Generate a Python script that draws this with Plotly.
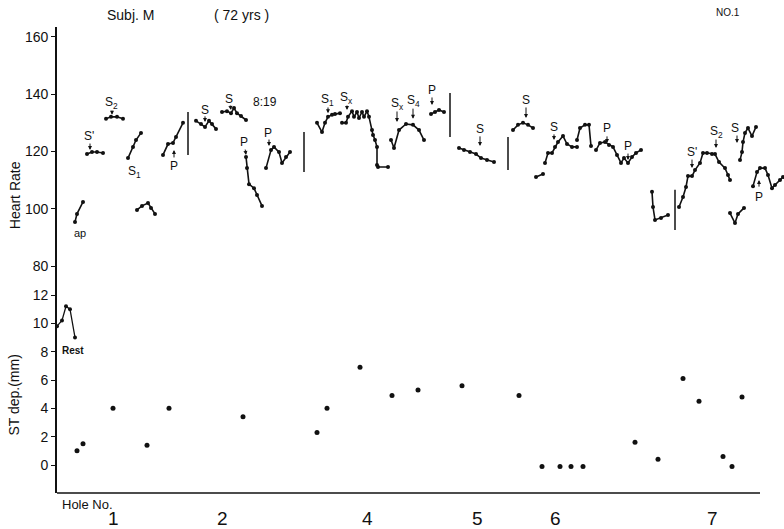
import plotly.graph_objects as go

# ---------------------------------------------------------------------------
# Heart-rate record during a round (x = elapsed time, arbitrary units)
# Each segment is one stretch of recording between shots / walks.
# ---------------------------------------------------------------------------
seg_ap_t = [18, 20, 26]
seg_ap_hr = [95.4, 98.2, 102.4]

seg_1a_t = [30, 35, 40, 46]
seg_1a_hr = [119.1, 119.8, 119.8, 119.5]

seg_1b_t = [49, 54, 60, 66]
seg_1b_hr = [131.4, 132.1, 132.1, 131.4]

seg_1c_t = [71, 76, 79, 84]
seg_1c_hr = [117.7, 121.6, 124.0, 126.5]

seg_1d_t = [80, 85, 91, 94, 98]
seg_1d_hr = [99.6, 101.0, 102.0, 100.3, 98.2]

seg_1e_t = [106, 111, 116, 119, 126]
seg_1e_hr = [118.8, 122.6, 123.0, 125.1, 130.0]

seg_2a_t = [139, 144, 148, 152, 155, 159]
seg_2a_hr = [130.7, 129.6, 128.6, 130.7, 129.6, 127.9]

seg_2b_t = [165, 170, 174, 177, 180, 184, 189]
seg_2b_hr = [133.8, 134.1, 133.4, 135.2, 133.4, 132.4, 131.0]

seg_2c_t = [189, 190, 192, 197, 200, 205]
seg_2c_hr = [118.1, 114.2, 108.6, 107.2, 104.8, 101.0]

seg_2d_t = [209, 214, 217, 222, 225, 229, 233]
seg_2d_hr = [114.2, 120.5, 121.6, 119.8, 116.0, 118.1, 119.8]

seg_4a_t = [260, 265, 268, 271, 275, 278, 283]
seg_4a_hr = [130.0, 126.8, 130.0, 132.1, 132.8, 133.1, 133.4]

seg_4b_t = [285, 289, 291, 295, 297, 300, 302, 305, 307, 310, 312, 315,
            316, 318, 320, 320, 321, 331]
seg_4b_hr = [130.0, 130.0, 132.1, 134.1, 132.1, 133.8, 131.7, 133.8, 132.1,
             134.1, 132.1, 127.5, 125.8, 124.0, 121.6, 115.3, 114.6, 114.6]

seg_4c_t = [334, 337, 342, 349, 356, 362, 367]
seg_4c_hr = [124.0, 121.2, 127.5, 129.6, 129.3, 127.5, 124.0]

seg_4d_t = [374, 378, 382, 387]
seg_4d_hr = [133.1, 133.8, 134.5, 133.8]

seg_5a_t = [402, 407, 413, 419, 424, 430, 437]
seg_5a_hr = [121.2, 120.5, 119.8, 119.1, 117.7, 117.0, 116.3]

seg_5b_t = [456, 461, 466, 471, 476]
seg_5b_hr = [127.5, 129.3, 130.0, 129.3, 128.2]

seg_6a_t = [479, 486]
seg_6a_hr = [111.1, 112.1]

seg_6b_t = [488, 491, 495, 498, 501, 506, 510, 515, 520]
seg_6b_hr = [116.0, 119.5, 119.5, 121.6, 123.3, 125.4, 122.6, 121.6, 121.6]

seg_6c_t = [520, 523, 528, 532, 534]
seg_6c_hr = [124.0, 128.2, 129.3, 129.3, 121.9]

seg_6d_t = [539, 543, 548, 552, 556, 560, 564, 567, 571, 575, 579, 584]
seg_6d_hr = [120.5, 123.0, 123.3, 122.3, 121.6, 118.8, 116.0, 117.7, 116.0,
             118.1, 119.5, 120.5]

seg_6e_t = [595, 596, 598, 604, 611]
seg_6e_hr = [105.9, 100.6, 96.1, 96.8, 97.8]

seg_7a_t = [622, 626, 629, 631, 635, 638, 643, 646, 650, 655, 658, 662, 668,
            671, 673]
seg_7a_hr = [100.6, 104.1, 107.6, 111.4, 111.4, 113.5, 116.0, 119.5, 119.5,
             119.1, 119.1, 116.3, 114.2, 111.8, 110.0]

seg_7b_t = [683, 685, 686, 688, 691, 695, 699]
seg_7b_hr = [117.0, 119.8, 123.3, 126.5, 128.2, 125.4, 128.6]

seg_7c_t = [673, 678, 681, 687]
seg_7c_hr = [98.5, 95.0, 98.2, 100.3]

seg_7d_t = [696, 700, 703, 708, 711, 715, 718, 723, 726]
seg_7d_hr = [107.9, 112.8, 114.2, 114.2, 111.8, 107.2, 108.3, 110.0, 111.1]

# Resting ST depression (mm) before the round
rest_t = [0, 5, 9, 13, 18]
rest_st = [9.8, 10.2, 11.2, 11.0, 9.0]

# ST depression (mm) measured along the round
st_t = [20, 26, 56, 90, 112, 186, 260, 270, 303, 335, 361, 405, 462,
        485, 503, 514, 526, 578, 601, 626, 642, 666, 675, 685]
st_mm = [1.0, 1.5, 4.0, 1.4, 4.0, 3.4, 2.3, 4.0, 6.9, 4.9, 5.3, 5.6, 4.9,
         -0.1, -0.1, -0.1, -0.1, 1.6, 0.4, 6.1, 4.5, 0.6, -0.1, 4.8]

# Hole numbers on the time axis
hole_t = [56, 165, 310, 420, 498, 655]
hole_labels = ["1", "2", "4", "5", "6", "7"]

# Hole separators: time, HR span
sep_t = [131, 247, 393, 451, 618]
sep_hr_top = [133.8, 126.8, 140.4, 125.1, 106.6]
sep_hr_bottom = [118.8, 112.8, 125.1, 113.5, 92.6]

# Event labels (S = stroke, P = putt): text, text position, arrow tail, arrow tip
event_text = ["S'", "S<sub>2</sub>", "P", "S", "S", "P", "P",
              "S<sub>1</sub>", "S<sub>x</sub>", "S<sub>x</sub>", "S<sub>4</sub>",
              "P", "S", "S", "S", "P", "P", "S'", "S<sub>2</sub>", "S", "P"]
event_t = [32, 54, 117, 148, 172, 187, 211, 270, 289, 340, 356, 375, 423,
           469, 497, 550, 571, 635, 659, 678, 702]
event_hr = [125.4, 136.9, 114.9, 134.5, 138.3, 123.3, 126.5, 138.0, 138.7,
            136.6, 137.6, 141.5, 127.9, 138.0, 128.6, 128.2, 122.0, 119.8,
            126.8, 128.2, 104.1]
arrow_tail_t = [33, 55, 117, 148, 173, 188, 212, 271, 290, 340, 356, 375,
                423, 469, 497, 550, 571, 635, 659, 680, 702]
arrow_tail_hr = [123.3, 134.8, 117.4, 132.8, 136.6, 121.2, 124.7, 135.9,
                 136.6, 134.5, 135.5, 139.4, 125.8, 135.9, 126.5, 125.8,
                 119.8, 117.7, 124.7, 126.1, 107.2]
arrow_tip_t = [33, 55, 117, 148, 174, 189, 212, 271, 290, 340, 356, 375,
               423, 469, 497, 550, 571, 635, 659, 680, 702]
arrow_tip_hr = [120.5, 132.8, 120.5, 130.3, 134.5, 118.8, 121.9, 133.4,
                134.5, 130.3, 131.4, 136.2, 121.9, 131.7, 124.0, 123.0,
                117.0, 114.2, 121.2, 123.0, 110.0]

segments = [
    (seg_ap_t, seg_ap_hr), (seg_1a_t, seg_1a_hr), (seg_1b_t, seg_1b_hr),
    (seg_1c_t, seg_1c_hr), (seg_1d_t, seg_1d_hr), (seg_1e_t, seg_1e_hr),
    (seg_2a_t, seg_2a_hr), (seg_2b_t, seg_2b_hr), (seg_2c_t, seg_2c_hr),
    (seg_2d_t, seg_2d_hr), (seg_4a_t, seg_4a_hr), (seg_4b_t, seg_4b_hr),
    (seg_4c_t, seg_4c_hr), (seg_4d_t, seg_4d_hr), (seg_5a_t, seg_5a_hr),
    (seg_5b_t, seg_5b_hr), (seg_6a_t, seg_6a_hr), (seg_6b_t, seg_6b_hr),
    (seg_6c_t, seg_6c_hr), (seg_6d_t, seg_6d_hr), (seg_6e_t, seg_6e_hr),
    (seg_7a_t, seg_7a_hr), (seg_7b_t, seg_7b_hr), (seg_7c_t, seg_7c_hr),
    (seg_7d_t, seg_7d_hr),
]

# Join the segments into a single broken line
hr_x, hr_y = [], []
for ts, hs in segments:
    hr_x += ts + [None]
    hr_y += hs + [None]

FONT = "Liberation Sans"
INK = "#111111"


def label(x, y, text, size, xref="x", yref="y", **kw):
    return dict(x=x, y=y, xref=xref, yref=yref, text=text, showarrow=False,
                xanchor="center", yanchor="middle",
                font=dict(family=FONT, size=size, color=INK), **kw)


fig = go.Figure()

fig.add_trace(go.Scatter(
    x=hr_x, y=hr_y, mode="lines+markers", yaxis="y",
    line=dict(color=INK, width=1.6),
    marker=dict(color=INK, size=4),
    connectgaps=False, showlegend=False, cliponaxis=False,
))

fig.add_trace(go.Scatter(
    x=rest_t, y=rest_st, mode="lines+markers", yaxis="y2",
    line=dict(color=INK, width=1.3),
    marker=dict(color=INK, size=4),
    showlegend=False, cliponaxis=False,
))

fig.add_trace(go.Scatter(
    x=st_t, y=st_mm, mode="markers", yaxis="y2",
    marker=dict(color=INK, size=5),
    showlegend=False, cliponaxis=False,
))

shapes = []
for t, top, bot in zip(sep_t, sep_hr_top, sep_hr_bottom):
    shapes.append(dict(type="line", xref="x", yref="y", x0=t, x1=t,
                       y0=bot, y1=top, line=dict(color=INK, width=1.5)))
# Baseline of the time axis
shapes.append(dict(type="line", xref="x", yref="paper", x0=-2, x1=703,
                   y0=0, y1=0, line=dict(color=INK, width=1.6)))

annotations = []
for txt, t, h in zip(event_text, event_t, event_hr):
    annotations.append(label(t, h, txt, 12))
for t0, h0, t1, h1 in zip(arrow_tail_t, arrow_tail_hr, arrow_tip_t, arrow_tip_hr):
    annotations.append(dict(x=t1, y=h1, ax=t0, ay=h0, xref="x", yref="y",
                            axref="x", ayref="y", text="", showarrow=True,
                            arrowhead=2, arrowsize=0.8, arrowwidth=1,
                            arrowcolor=INK, standoff=0, startstandoff=0))

annotations += [
    label(23, 91.5, "ap", 11),
    label(208, 137.3, "8:19", 12),
    label(77, 112.8, "S<sub>1</sub>", 12),
    label(16, 8.1, "<b>Rest</b>", 10, yref="y2"),
]

for t, lab in zip(hole_t, hole_labels):
    annotations.append(label(t, -0.054, lab, 19, yref="paper"))

annotations += [
    label(30, -0.024, "Hole No.", 13, yref="paper"),
    label(-0.0585, 0.64, "Heart Rate", 14, xref="paper", yref="paper", textangle=-90),
    label(-0.0585, 0.21, "ST dep.(mm)", 14, xref="paper", yref="paper", textangle=-90),
    label(73, 1.026, "Subj. M", 14, yref="paper"),
    label(184, 1.026, "( 72 yrs )", 14, yref="paper"),
    label(671, 1.032, "NO.1", 10, yref="paper"),
]

split = (493 - 280) / 466

axis_common = dict(
    showgrid=False, zeroline=False, showline=True, linecolor=INK, linewidth=1.6,
    ticks="outside", ticklen=4, tickcolor=INK, tickwidth=1.2,
    tickfont=dict(family=FONT, size=14, color=INK),
)

fig.update_layout(
    width=784, height=529,
    margin=dict(l=57, r=0, t=27, b=36),
    paper_bgcolor="white", plot_bgcolor="white",
    font=dict(family=FONT, color=INK),
    xaxis=dict(range=[0, 727], showgrid=False, zeroline=False, showline=False,
               showticklabels=False, ticks=""),
    yaxis=dict(domain=[split, 1], range=[75.11, 163.49],
               tickvals=[80, 100, 120, 140, 160], **axis_common),
    yaxis2=dict(domain=[0, split], range=[-1.976, 13.06],
                tickvals=[0, 2, 4, 6, 8, 10, 12], **axis_common),
    shapes=shapes,
    annotations=annotations,
    showlegend=False,
)

fig.write_html("out.html")
